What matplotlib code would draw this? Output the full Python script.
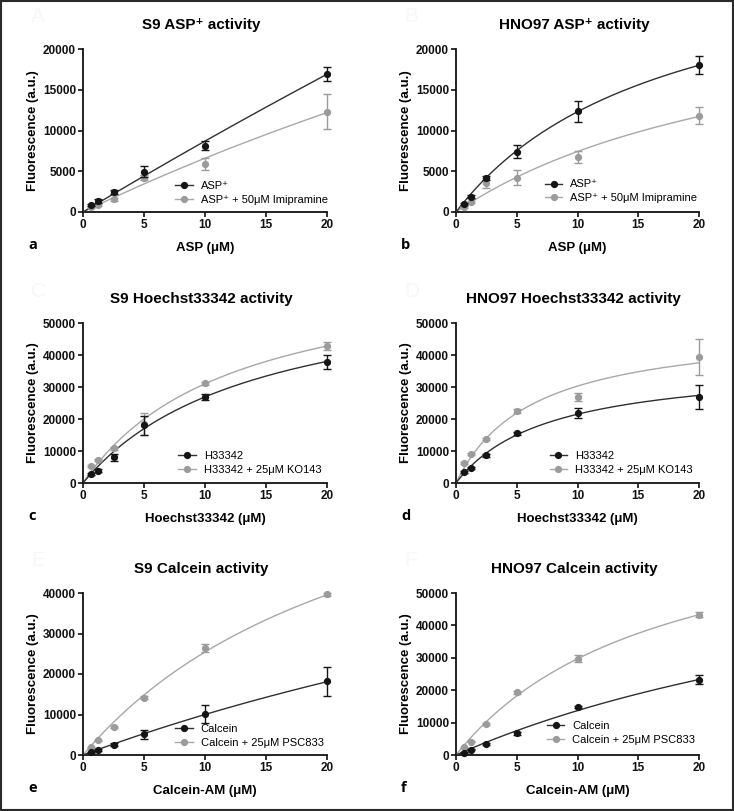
import numpy as np
import matplotlib
matplotlib.use("Agg")
import matplotlib.pyplot as plt
from matplotlib.lines import Line2D
from matplotlib.patches import Rectangle

plt.rcParams['font.family'] = ['Liberation Sans', 'DejaVu Sans']

# ---------------- data ----------------
conc = [0.625, 1.25, 2.5, 5, 10, 20]

titles = ["S9 ASP\u207a activity", "HNO97 ASP\u207a activity",
          "S9 Hoechst33342 activity", "HNO97 Hoechst33342 activity",
          "S9 Calcein activity", "HNO97 Calcein activity"]
xlabels = ["ASP (\u03bcM)", "ASP (\u03bcM)",
           "Hoechst33342 (\u03bcM)", "Hoechst33342 (\u03bcM)",
           "Calcein-AM (\u03bcM)", "Calcein-AM (\u03bcM)"]
panel_letters = ["a", "b", "c", "d", "e", "f"]
ghost_letters = ["A", "B", "C", "D", "E", "F"]
legend_black = ["ASP\u207a", "ASP\u207a", "H33342", "H33342", "Calcein", "Calcein"]
legend_gray = ["ASP\u207a + 50\u03bcM Imipramine", "ASP\u207a + 50\u03bcM Imipramine",
               "H33342 + 25\u03bcM KO143", "H33342 + 25\u03bcM KO143",
               "Calcein + 25\u03bcM PSC833", "Calcein + 25\u03bcM PSC833"]
y_max = [20000, 20000, 50000, 50000, 40000, 50000]
y_step = [5000, 5000, 10000, 10000, 10000, 10000]

a_black = [860, 1350, 2460, 4960, 8150, 16900]
a_black_err = [150, 200, 250, 700, 550, 850]
a_gray = [650, 860, 1560, 4220, 5900, 12300]
a_gray_err = [100, 150, 150, 300, 700, 2150]

b_black = [980, 1890, 4140, 7420, 12340, 18030]
b_black_err = [150, 200, 250, 800, 1250, 1130]
b_gray = [650, 1230, 3520, 4220, 6720, 11840]
b_gray_err = [100, 150, 600, 900, 750, 1000]

c_black = [2900, 3840, 8000, 18000, 26870, 37860]
c_black_err = [300, 400, 1000, 3000, 800, 2200]
c_gray = [5190, 7050, 10890, 18500, 31120, 42840]
c_gray_err = [300, 300, 500, 3500, 500, 1300]

d_black = [3420, 4560, 8610, 15560, 21780, 26970]
d_black_err = [300, 300, 500, 500, 1600, 3800]
d_gray = [6120, 8920, 13690, 22510, 26970, 39420]
d_gray_err = [300, 300, 400, 500, 1200, 5700]

e_black = [660, 1310, 2550, 5090, 10180, 18150]
e_black_err = [200, 200, 300, 1100, 2200, 3600]
e_gray = [1890, 3610, 6980, 14130, 26530, 39670]
e_gray_err = [200, 200, 300, 400, 1000, 300]

f_black = [720, 1640, 3280, 6660, 14860, 23260]
f_black_err = [200, 200, 300, 400, 400, 1400]
f_gray = [2360, 4100, 9430, 19360, 29710, 43340]
f_gray_err = [200, 200, 300, 400, 1000, 900]

# Michaelis-Menten fit parameters (Vmax, Km)
a_black_fit = (295800, 330); a_gray_fit = (80260, 111.6)
b_black_fit = (33580, 17.3); b_gray_fit = (27830, 27.5)
c_black_fit = (64700, 14.05); c_gray_fit = (69130, 12.3)
d_black_fit = (37730, 7.55); d_gray_fit = (49370, 6.3)
e_black_fit = (95000, 85); e_gray_fit = (89000, 25)
f_black_fit = (77700, 46.7); f_gray_fit = (79890, 16.9)

black_data = [a_black, b_black, c_black, d_black, e_black, f_black]
black_errs = [a_black_err, b_black_err, c_black_err, d_black_err, e_black_err, f_black_err]
gray_data = [a_gray, b_gray, c_gray, d_gray, e_gray, f_gray]
gray_errs = [a_gray_err, b_gray_err, c_gray_err, d_gray_err, e_gray_err, f_gray_err]
black_fits = [a_black_fit, b_black_fit, c_black_fit, d_black_fit, e_black_fit, f_black_fit]
gray_fits = [a_gray_fit, b_gray_fit, c_gray_fit, d_gray_fit, e_gray_fit, f_gray_fit]

# ---------------- layout ----------------
W, H = 734, 811
fig = plt.figure(figsize=(W / 100, H / 100), dpi=100)

col_lr = [(83, 327), (456, 699)]
row_tb = [(49, 212), (323, 483), (593, 755)]
legend_anchor = [(0.377, 0.19), (0.365, 0.20), (0.39, 0.20),
                 (0.385, 0.20), (0.377, 0.19), (0.373, 0.21)]

C_BLACK = "#151515"
C_GRAY = "#9b9b9b"
C_BLACK_LINE = "#303030"
C_GRAY_LINE = "#a8a8a8"

for i in range(6):
    r, c = divmod(i, 2)
    l, rr = col_lr[c]
    t, b = row_tb[r]
    ax = fig.add_axes([l / W, 1 - b / H, (rr - l) / W, (b - t) / H])

    xs = np.linspace(0, 20, 200)
    vb, kb = black_fits[i]
    vg, kg = gray_fits[i]
    ax.plot(xs, vg * xs / (kg + xs), color=C_GRAY_LINE, lw=1.0, zorder=2)
    ax.plot(xs, vb * xs / (kb + xs), color=C_BLACK_LINE, lw=1.0, zorder=3)

    ax.errorbar(conc, gray_data[i], yerr=gray_errs[i], fmt='o', ms=4.2,
                color=C_GRAY, ecolor=C_GRAY, elinewidth=1.0, capsize=2.6,
                capthick=1.0, zorder=4, clip_on=False)
    ax.errorbar(conc, black_data[i], yerr=black_errs[i], fmt='o', ms=4.2,
                color=C_BLACK, ecolor=C_BLACK, elinewidth=1.0, capsize=2.6,
                capthick=1.0, zorder=5, clip_on=False)

    ax.set_xlim(0, 20)
    ax.set_ylim(0, y_max[i])
    ax.set_xticks([0, 5, 10, 15, 20])
    ax.set_yticks(np.arange(0, y_max[i] + 1, y_step[i]))
    ax.set_yticklabels([str(int(v)) for v in np.arange(0, y_max[i] + 1, y_step[i])])
    for s in ['top', 'right']:
        ax.spines[s].set_visible(False)
    for s in ['left', 'bottom']:
        ax.spines[s].set_linewidth(1.3)
        ax.spines[s].set_color('#111111')
    ax.tick_params(direction='out', length=3.5, width=1.2, labelsize=8.5, pad=1.5,
                   colors='#111111')
    for lab in ax.get_xticklabels() + ax.get_yticklabels():
        lab.set_fontweight('bold')

    ax.set_ylabel("Fluorescence (a.u.)", fontsize=9.5, fontweight='bold', labelpad=3)
    ax.set_xlabel(xlabels[i], fontsize=9.5, fontweight='bold', labelpad=8)

    cx = (l + rr) / 2 / W
    fig.text(cx - 0.005, 1 - (t - 24) / H, titles[i], ha='center', va='center',
             fontsize=11, fontweight='bold')

    handles = [Line2D([0], [0], color=C_BLACK_LINE, lw=1.0, marker='o', ms=4.2,
                      markerfacecolor=C_BLACK, markeredgecolor=C_BLACK),
               Line2D([0], [0], color=C_GRAY_LINE, lw=1.0, marker='o', ms=4.2,
                      markerfacecolor=C_GRAY, markeredgecolor=C_GRAY)]
    ax.legend(handles, [legend_black[i], legend_gray[i]], loc='upper left',
              bbox_to_anchor=legend_anchor[i], frameon=False, fontsize=8,
              handlelength=1.6, handletextpad=0.7, labelspacing=0.35,
              borderpad=0, borderaxespad=0, numpoints=1)

    # panel letter
    fig.text((l - 55) / W, 1 - (b + 33) / H, panel_letters[i], ha='left',
             va='center', fontsize=10.5, fontweight='bold',
             family=['Open Sans', 'DejaVu Sans'])
    # faint ghost letter
    fig.text((l - 52) / W, 1 - (t - 32) / H, ghost_letters[i], ha='left',
             va='center', fontsize=15, color='#f7f7f7')

fig.patches.append(Rectangle((0.001, 0.001), 0.998, 0.998, transform=fig.transFigure,
                             fill=False, edgecolor='#2a2a2a', lw=1.5))

fig.savefig("out.png", dpi=100)
